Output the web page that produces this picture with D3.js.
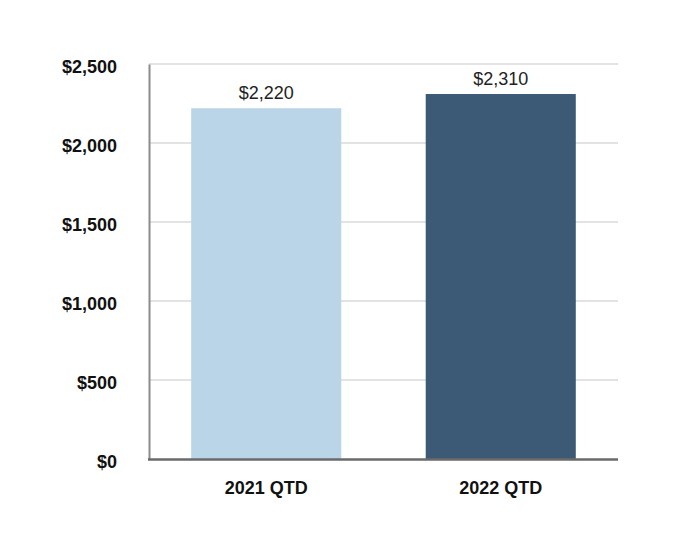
<!DOCTYPE html>
<html><head><meta charset="utf-8">
<script src="https://cdn.jsdelivr.net/npm/d3@7"></script>
<style>body{margin:0;background:#fff}</style>
</head><body>
<svg id="c" width="682" height="560"></svg>
<script>
const categories = ["2021 QTD", "2022 QTD"];
const values = [2220, 2310];
const valueLabels = ["$2,220", "$2,310"];
const yTicks = [0, 500, 1000, 1500, 2000, 2500];
const colors = ["#bad5e8", "#3c5a76"];

const svg = d3.select("#c");
const m = {left:149, right:64, top:64, bottom:101};
const W = 682, H = 560;
const x = d3.scaleBand().domain(categories).range([m.left, W - m.right]).paddingInner(0.36).paddingOuter(0.18);
const y = d3.scaleLinear().domain([0, 2500]).range([H - m.bottom, m.top]);
const fmt = d3.format(",");
const FONT = "Liberation Sans, Arial, sans-serif";

// gridlines
svg.append("g").selectAll("line").data(yTicks.filter(d => d > 0)).join("line")
  .attr("x1", m.left).attr("x2", W - m.right)
  .attr("y1", d => y(d)).attr("y2", d => y(d))
  .attr("stroke", "#e3e3e3").attr("stroke-width", 2);

// bars
svg.append("g").selectAll("rect").data(values).join("rect")
  .attr("x", (d, i) => x(categories[i])).attr("width", x.bandwidth())
  .attr("y", d => y(d)).attr("height", d => y(0) - y(d))
  .attr("fill", (d, i) => colors[i]);

// value labels
svg.append("g").selectAll("text").data(values).join("text")
  .attr("x", (d, i) => x(categories[i]) + x.bandwidth() / 2)
  .attr("y", d => y(d) - 9)
  .attr("text-anchor", "middle")
  .attr("font-family", FONT)
  .attr("font-size", 18).attr("fill", "#222")
  .text((d, i) => valueLabels[i]);

// y axis
const yAxis = svg.append("g").attr("transform", `translate(${m.left},0)`)
  .call(d3.axisLeft(y).tickValues(yTicks).tickSize(0).tickPadding(32).tickFormat(d => "$" + fmt(d)));
yAxis.select(".domain").attr("stroke", "#8c8c8c").attr("stroke-width", 2);
yAxis.selectAll("text").attr("font-family", FONT).attr("dy", "0.45em")
  .attr("font-size", 18).attr("font-weight", "bold").attr("fill", "#111");

// x axis
const xAxis = svg.append("g").attr("transform", `translate(0,${y(0)})`)
  .call(d3.axisBottom(x).tickSize(0).tickPadding(22));
xAxis.select(".domain").attr("stroke", "#6a6a6a").attr("stroke-width", 2.5)
  .attr("d", `M${m.left - 1},0.5H${W - m.right}`);
xAxis.selectAll("text").attr("font-family", FONT)
  .attr("font-size", 18).attr("font-weight", "bold").attr("fill", "#111");
</script>
</body></html>
